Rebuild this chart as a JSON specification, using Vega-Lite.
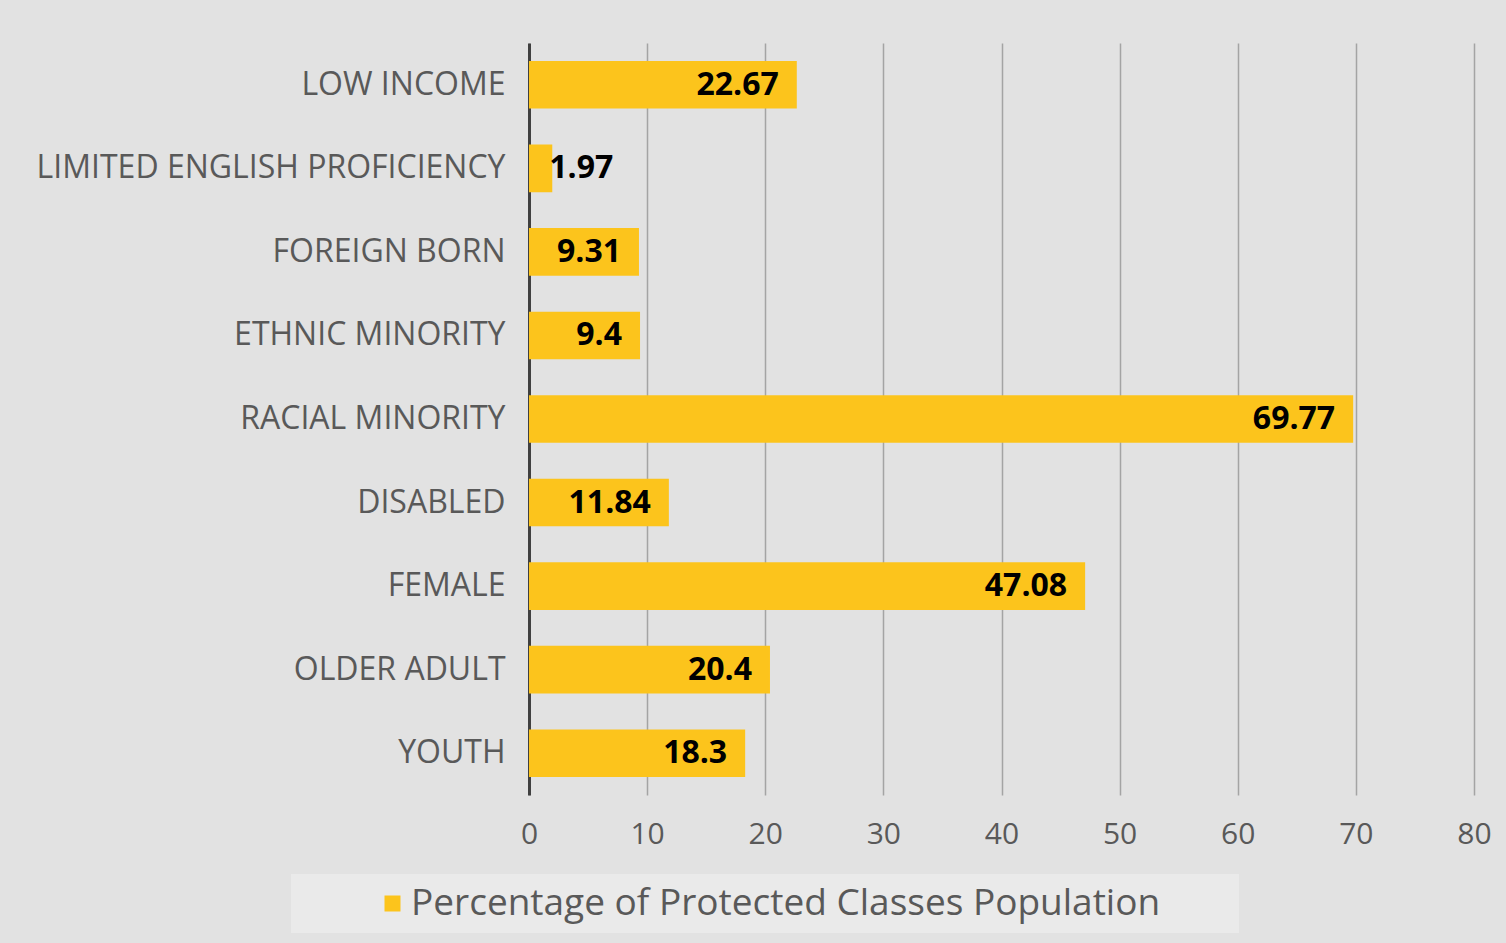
{
  "$schema": "https://vega.github.io/schema/vega-lite/v6.json",
  "autosize": "none",
  "width": 945,
  "height": 752,
  "padding": {"left": 529, "top": 43, "right": 32, "bottom": 148},
  "background": "#e2e2e2",
  "config": {
    "font": "Open Sans",
    "view": {"stroke": null}
  },
  "data": {
    "values": [
      {"category": "LOW INCOME", "value": 22.67, "series": "Percentage of Protected Classes Population"},
      {"category": "LIMITED ENGLISH PROFICIENCY", "value": 1.97, "series": "Percentage of Protected Classes Population"},
      {"category": "FOREIGN BORN", "value": 9.31, "series": "Percentage of Protected Classes Population"},
      {"category": "ETHNIC MINORITY", "value": 9.4, "series": "Percentage of Protected Classes Population"},
      {"category": "RACIAL MINORITY", "value": 69.77, "series": "Percentage of Protected Classes Population"},
      {"category": "DISABLED", "value": 11.84, "series": "Percentage of Protected Classes Population"},
      {"category": "FEMALE", "value": 47.08, "series": "Percentage of Protected Classes Population"},
      {"category": "OLDER ADULT", "value": 20.4, "series": "Percentage of Protected Classes Population"},
      {"category": "YOUTH", "value": 18.3, "series": "Percentage of Protected Classes Population"}
    ]
  },
  "encoding": {
    "y": {
      "field": "category",
      "type": "nominal",
      "sort": null,
      "scale": {"paddingInner": 0.43, "paddingOuter": 0.215},
      "axis": {
        "title": null,
        "domain": true,
        "domainColor": "#404040",
        "domainWidth": 3,
        "ticks": false,
        "grid": false,
        "labelFontSize": 32,
        "labelColor": "#595959",
        "labelPadding": 24,
        "labelLimit": 600
      }
    },
    "x": {
      "field": "value",
      "type": "quantitative",
      "scale": {"domain": [0, 80], "nice": false},
      "axis": {
        "title": null,
        "values": [0, 10, 20, 30, 40, 50, 60, 70, 80],
        "domain": false,
        "ticks": false,
        "grid": true,
        "gridColor": "#a4a4a4",
        "gridWidth": 1.5,
        "labelFontSize": 30,
        "labelColor": "#595959",
        "labelPadding": 24,
        "labelFlush": false
      }
    }
  },
  "layer": [
    {
      "mark": {"type": "bar", "cornerRadius": 0},
      "encoding": {
        "color": {
          "field": "series",
          "type": "nominal",
          "scale": {"range": ["#fcc41c"]},
          "legend": {
            "title": null,
            "orient": "none",
            "legendX": -238,
            "legendY": 831,
            "direction": "horizontal",
            "fillColor": "#eaeaea",
            "padding": 11,
            "symbolType": "square",
            "symbolSize": 256,
            "symbolStrokeWidth": 0,
            "symbolOffset": 72,
            "labelFontSize": 37,
            "labelColor": "#595959",
            "labelOffset": 0,
            "labelLimit": 1400,
            "labelExpr": "datum.label + '\u00a0\u00a0\u00a0\u00a0\u00a0\u00a0\u00a0\u200b'"
          }
        }
      }
    },
    {
      "transform": [{"filter": "datum.value >= 5"}],
      "mark": {"type": "text", "align": "right", "baseline": "middle", "dx": -18, "fontSize": 32, "fontWeight": "bold", "color": "#000000"},
      "encoding": {"text": {"field": "value", "type": "quantitative"}}
    },
    {
      "transform": [{"filter": "datum.value < 5"}],
      "mark": {"type": "text", "align": "left", "baseline": "middle", "dx": -3, "fontSize": 32, "fontWeight": "bold", "color": "#000000"},
      "encoding": {"text": {"field": "value", "type": "quantitative"}}
    }
  ]
}
